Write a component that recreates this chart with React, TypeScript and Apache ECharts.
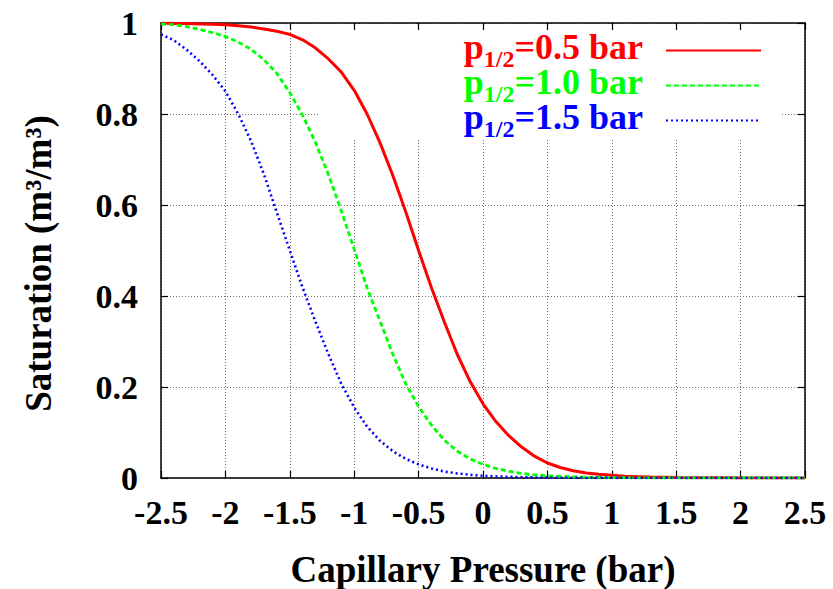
import React, { useEffect, useRef } from "react";
import * as echarts from "echarts";

const xs = [
  -2.5, -2.4, -2.3, -2.2, -2.1, -2.0, -1.9, -1.8, -1.7, -1.6, -1.5, -1.4, -1.3,
  -1.2, -1.1, -1.0, -0.9, -0.8, -0.7, -0.6, -0.5, -0.4, -0.3, -0.2, -0.1, 0.0,
  0.1, 0.2, 0.3, 0.4, 0.5, 0.6, 0.7, 0.8, 0.9, 1.0, 1.1, 1.2, 1.3, 1.4, 1.5,
  1.6, 1.7, 1.8, 1.9, 2.0, 2.1, 2.2, 2.3, 2.4, 2.5,
];

const red05 = [
  1.0, 0.999, 0.999, 0.998, 0.997, 0.996, 0.994, 0.991, 0.987, 0.982, 0.975,
  0.963, 0.945, 0.921, 0.892, 0.852, 0.8, 0.737, 0.665, 0.585, 0.5, 0.418,
  0.343, 0.272, 0.212, 0.163, 0.124, 0.093, 0.068, 0.048, 0.033, 0.023, 0.016,
  0.011, 0.008, 0.006, 0.004, 0.003, 0.002, 0.0015, 0.001, 0.0008, 0.0006,
  0.0004, 0.0003, 0.0002, 0.0002, 0.0001, 0.0001, 0.0001, 0.0001,
];

const green10 = [
  0.998, 0.996, 0.992, 0.986, 0.979, 0.97, 0.958, 0.942, 0.919, 0.889, 0.847,
  0.797, 0.737, 0.667, 0.587, 0.503, 0.418, 0.345, 0.272, 0.207, 0.157, 0.116,
  0.083, 0.059, 0.042, 0.03, 0.021, 0.015, 0.01, 0.007, 0.005, 0.0035, 0.0025,
  0.0018, 0.0012, 0.0008, 0.0006, 0.0004, 0.0003, 0.0002, 0.0001, 0.0001,
  0.0001, 0.0001, 0.0001, 0.0001, 0.0001, 0.0001, 0.0001, 0.0001, 0.0001,
];

const blue15 = [
  0.975, 0.962, 0.941, 0.916, 0.886, 0.85, 0.8, 0.74, 0.667, 0.583, 0.5, 0.418,
  0.343, 0.272, 0.207, 0.155, 0.113, 0.082, 0.059, 0.042, 0.03, 0.021, 0.014,
  0.01, 0.007, 0.005, 0.0035, 0.0025, 0.0018, 0.0012, 0.0008, 0.0006, 0.0004,
  0.0003, 0.0002, 0.0002, 0.0001, 0.0001, 0.0001, 0.0001, 0.0001, 0.0001,
  0.0001, 0.0001, 0.0001, 0.0001, 0.0001, 0.0001, 0.0001, 0.0001, 0.0001,
];

const seriesNames = ["p05", "p10", "p15"];
const legendValues = ["0.5", "1.0", "1.5"];
const seriesColors = ["#ff0000", "#00ff00", "#0000ff"];

const FONT = "'Liberation Serif', 'DejaVu Serif', serif";

export default function App() {
  const ref = useRef<HTMLDivElement>(null);

  useEffect(() => {
    if (!ref.current) return;
    const chart = echarts.init(ref.current, undefined, { renderer: "svg" });
    const pair = (ys: number[]) => xs.map((x, i) => [x, ys[i]]);
    const allY = [red05, green10, blue15];
    const dashes: any[] = ["solid", [5, 3], [2, 3]];
    const widths = [3, 2.8, 2.6];

    const boxAxis = (extra: any) => ({
      type: "value",
      axisLine: { show: true, onZero: false, lineStyle: { color: "#000", width: 1.5 } },
      axisTick: { show: true, inside: true, length: 7, lineStyle: { color: "#000", width: 1.2 } },
      ...extra,
    });

    const option: any = {
      animation: false,
      backgroundColor: "#ffffff",
      grid: {
        left: 161,
        top: 23,
        width: 644,
        height: 455,
        containLabel: false,
        outerBoundsMode: "none",
      },
      legend: {
        orient: "vertical",
        right: 71,
        top: 29,
        padding: 0,
        align: "right",
        itemWidth: 95,
        itemHeight: 14,
        itemGap: -7,
        selectedMode: false,
        itemStyle: { opacity: 0 },
        data: seriesNames.map((n, i) => ({
          name: n,
          textStyle: { color: seriesColors[i] },
        })),
        formatter: (name: string) => {
          const i = seriesNames.indexOf(name);
          return `{m|p}{s|1/2}{m|=${legendValues[i]} bar}{g| }`;
        },
        textStyle: {
          fontFamily: FONT,
          fontWeight: "bold",
          fontSize: 36,
          rich: {
            m: {
              fontFamily: FONT,
              fontWeight: "bold",
              fontSize: 36,
              height: 30,
              lineHeight: 30,
              verticalAlign: "top",
            },
            s: {
              fontFamily: FONT,
              fontWeight: "bold",
              fontSize: 24,
              height: 20,
              lineHeight: 20,
              verticalAlign: "bottom",
            },
            g: {
              width: 18,
              fontSize: 10,
              height: 37,
              lineHeight: 37,
              verticalAlign: "top",
            },
          },
        },
      },
      graphic: [
        {
          type: "rect",
          z: 1,
          shape: { x: 318, y: 31, width: 464, height: 109 },
          style: { fill: "#ffffff" },
          silent: true,
        },
      ],
      xAxis: [
        boxAxis({
          min: -2.5,
          max: 2.5,
          interval: 0.5,
          position: "bottom",
          name: "Capillary Pressure (bar)",
          nameLocation: "middle",
          nameGap: 73,
          nameTextStyle: {
            fontFamily: FONT,
            fontWeight: "bold",
            fontSize: 37,
            color: "#000",
          },
          axisLabel: {
            margin: 17,
            fontFamily: FONT,
            fontWeight: "bold",
            fontSize: 34,
            color: "#000",
          },
          splitLine: {
            show: true,
            lineStyle: { color: "#707070", width: 1, type: [1, 2] },
          },
        }),
        boxAxis({
          min: -2.5,
          max: 2.5,
          interval: 0.5,
          position: "top",
          axisLabel: { show: false },
          splitLine: { show: false },
        }),
      ],
      yAxis: [
        boxAxis({
          min: 0,
          max: 1,
          interval: 0.2,
          position: "left",
          name: "Saturation (m³/m³)",
          nameLocation: "middle",
          nameGap: 104,
          nameTextStyle: {
            fontFamily: FONT,
            fontWeight: "bold",
            fontSize: 37,
            color: "#000",
            padding: [0, 26, 0, 0],
          },
          axisLabel: {
            margin: 23,
            fontFamily: FONT,
            fontWeight: "bold",
            fontSize: 34,
            color: "#000",
          },
          splitLine: {
            show: true,
            lineStyle: { color: "#707070", width: 1, type: [1, 2] },
          },
        }),
        boxAxis({
          min: 0,
          max: 1,
          interval: 0.2,
          position: "right",
          axisLabel: { show: false },
          splitLine: { show: false },
        }),
      ],
      series: seriesNames.map((n, i) => ({
        name: n,
        type: "line",
        xAxisIndex: 0,
        yAxisIndex: 0,
        data: pair(allY[i]),
        showSymbol: false,
        symbol: "none",
        smooth: false,
        z: 2 + i,
        lineStyle: {
          color: seriesColors[i],
          width: widths[i],
          type: dashes[i],
        },
        itemStyle: { color: seriesColors[i] },
      })),
    };

    chart.setOption(option);
    return () => chart.dispose();
  }, []);

  return (
    <div
      ref={ref}
      style={{ position: "fixed", left: 0, top: 0, width: 833, height: 589 }}
    />
  );
}
